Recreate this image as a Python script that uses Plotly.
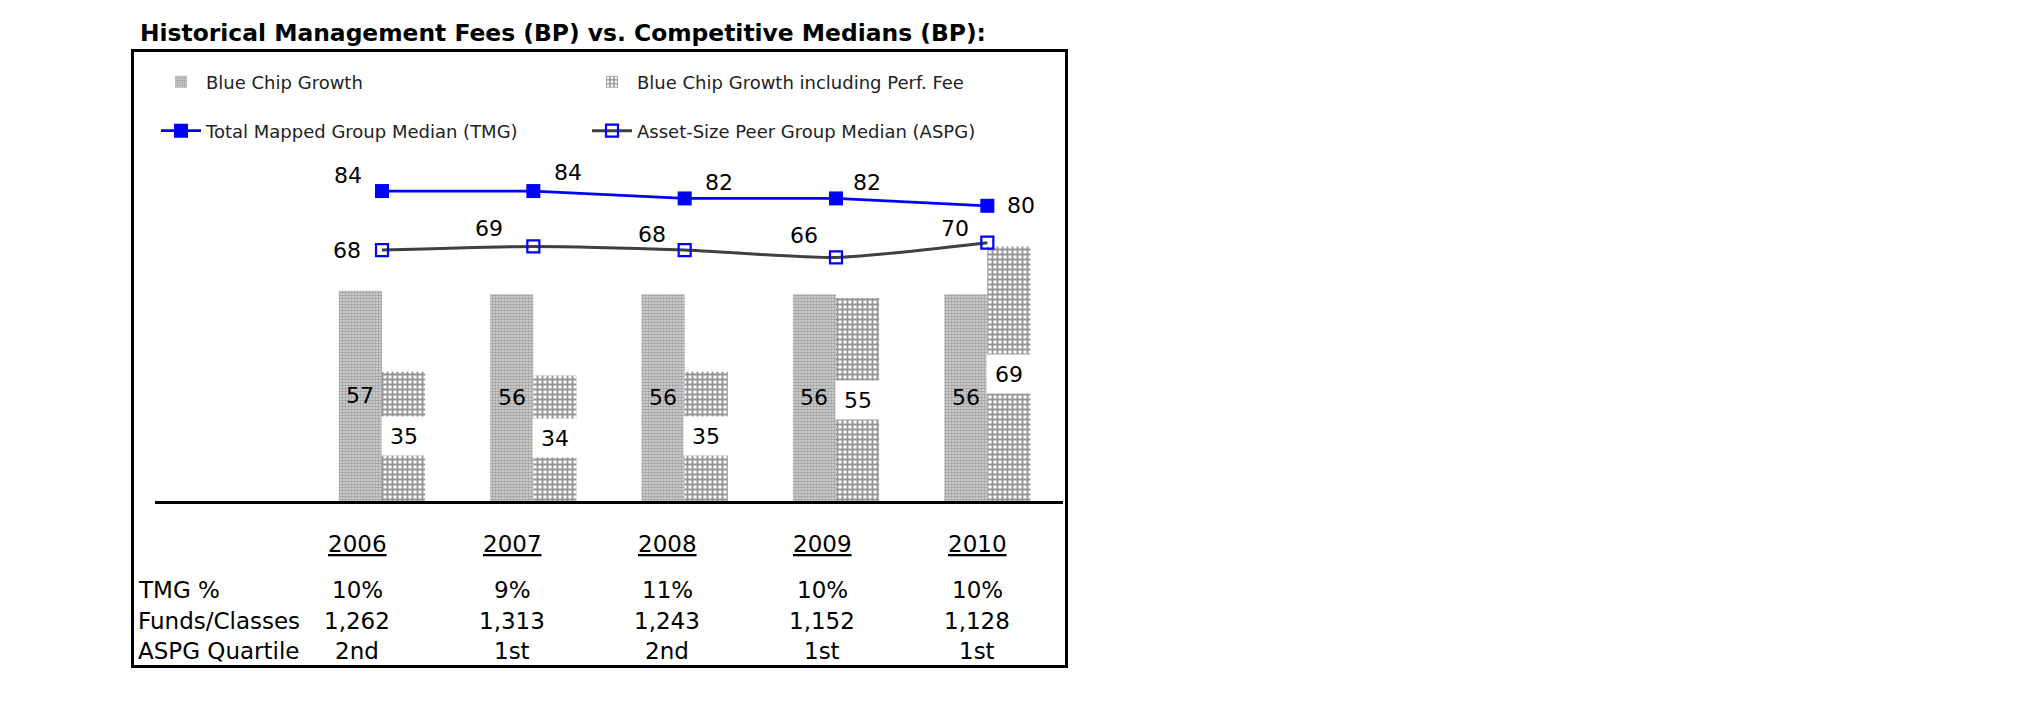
import plotly.graph_objects as go

years = ["2006", "2007", "2008", "2009", "2010"]
bcg = [57, 56, 56, 56, 56]
bcg_perf = [35, 34, 35, 55, 69]
tmg = [84, 84, 82, 82, 80]
aspg = [68, 69, 68, 66, 70]

row_labels = ["TMG %", "Funds/Classes", "ASPG Quartile"]
tmg_pct = ["10%", "9%", "11%", "10%", "10%"]
funds = ["1,262", "1,313", "1,243", "1,152", "1,128"]
quartile = ["2nd", "1st", "2nd", "1st", "1st"]

title = "Historical Management Fees (BP) vs. Competitive Medians (BP):"

# label offsets (pixels, screen) for line value labels
tmg_off = [(-34, -16), (35, -19), (34, -16), (31, -16), (34, 0)]
aspg_off = [(-35, 0), (-44, -18), (-33, -16), (-32, -22), (-32, -14)]

FONT = "DejaVu Sans"
W, H = 2025, 717
OFF = 8  # default page margin of the html body
ML = 155 - OFF
MT = 132 - OFF
MB = H - (501 - OFF)
MR = W - (1063 - OFF)
PW = W - ML - MR
PH = H - MT - MB

xpos = list(range(len(years)))  # category index positions on the x axis


def px(xpix):
    return (xpix - OFF - ML) / PW


def py(ypix):
    return (H - MB - (ypix - OFF)) / PH


fig = go.Figure()

fig.add_trace(go.Bar(
    x=xpos, y=bcg, name="Blue Chip Growth", legend="legend",
    marker=dict(color="#c8c8c8", line=dict(width=0),
                pattern=dict(shape=".", size=3, solidity=0.6,
                             fgcolor="#666666", bgcolor="#dadada", fillmode="overlay")),
))
fig.add_trace(go.Bar(
    x=xpos, y=bcg_perf, name="Blue Chip Growth including Perf. Fee", legend="legend",
    marker=dict(color="white", line=dict(width=0),
                pattern=dict(shape="+", size=5, solidity=0.6,
                             fgcolor="#2a2a2a", bgcolor="#ffffff", fillmode="overlay")),
))
fig.add_trace(go.Scatter(
    x=xpos, y=tmg, name="Total Mapped Group Median (TMG)", legend="legend2",
    mode="lines+markers",
    line=dict(color="#0000ff", width=2.8),
    marker=dict(symbol="square", size=14, color="#0000ff"),
))
fig.add_trace(go.Scatter(
    x=xpos, y=aspg, name="Asset-Size Peer Group Median (ASPG)", legend="legend2",
    mode="lines+markers",
    line=dict(color="#404040", width=3, shape="spline", smoothing=0.6),
    marker=dict(symbol="square-open", size=12, color="#0000ff", line=dict(width=2.2)),
))

ann = []
bw = 43.2
for i in xpos:
    ann.append(dict(x=i, y=bcg[i] / 2, xref="x", yref="y", text=str(bcg[i]),
                    showarrow=False, xshift=-bw / 2,
                    font=dict(family=FONT, size=22, color="black")))
    ann.append(dict(x=i, y=bcg_perf[i] / 2, xref="x", yref="y", text=str(bcg_perf[i]),
                    showarrow=False, xshift=bw / 2, bgcolor="white",
                    width=40, height=34, borderpad=2,
                    font=dict(family=FONT, size=22, color="black")))
    dx, dy = tmg_off[i]
    ann.append(dict(x=i, y=tmg[i], xref="x", yref="y", text=str(tmg[i]),
                    showarrow=False, xshift=dx, yshift=-dy,
                    font=dict(family=FONT, size=22, color="black")))
    dx, dy = aspg_off[i]
    ann.append(dict(x=i, y=aspg[i], xref="x", yref="y", text=str(aspg[i]),
                    showarrow=False, xshift=dx, yshift=-dy,
                    font=dict(family=FONT, size=22, color="black")))

# title
ann.append(dict(x=px(138), y=py(33.5), xref="paper", yref="paper", text="<b>" + title + "</b>",
                showarrow=False, xanchor="left", yanchor="middle",
                font=dict(family=FONT, size=23.4, color="black")))

# table
col_x = [357 + 155 * i for i in range(5)]
row_y = [590, 621, 651]
for i, yr in enumerate(years):
    ann.append(dict(x=px(col_x[i]), y=py(543.5), xref="paper", yref="paper",
                    text="<u>" + yr + "</u>", showarrow=False, xanchor="center", yanchor="middle",
                    font=dict(family=FONT, size=23, color="black")))
    for r, vals in enumerate([tmg_pct, funds, quartile]):
        ann.append(dict(x=px(col_x[i]), y=py(row_y[r]), xref="paper", yref="paper",
                        text=vals[i], showarrow=False, xanchor="center", yanchor="middle",
                        font=dict(family=FONT, size=23, color="black")))
for r, lab in enumerate(row_labels):
    ann.append(dict(x=px(136), y=py(row_y[r]), xref="paper", yref="paper",
                    text=lab, showarrow=False, xanchor="left", yanchor="middle",
                    font=dict(family=FONT, size=23, color="black")))

shapes = [dict(type="rect", xref="paper", yref="paper",
               x0=px(132.5), x1=px(1066.5), y0=py(666.5), y1=py(50.5),
               line=dict(color="black", width=3), fillcolor="rgba(0,0,0,0)", layer="above")]

fig.update_layout(
    width=W, height=H, autosize=False,
    margin=dict(l=ML, r=MR, t=MT, b=MB, pad=0, autoexpand=False),
    paper_bgcolor="white", plot_bgcolor="white",
    barmode="group", bargap=0.43, bargroupgap=0,
    font=dict(family=FONT, size=18, color="black"),
    xaxis=dict(type="linear", range=[-1.5, 4.5], showticklabels=False, ticks="", showgrid=False,
               zeroline=False, showline=True, linecolor="black", linewidth=3, fixedrange=True),
    yaxis=dict(range=[0, 100], visible=False, fixedrange=True),
    legend=dict(orientation="h", x=px(156), y=py(82), xanchor="left", yanchor="middle",
                entrywidth=376, entrywidthmode="pixels", itemwidth=40,
                font=dict(family=FONT, size=18, color="#222"), bgcolor="rgba(0,0,0,0)",
                traceorder="normal"),
    legend2=dict(orientation="h", x=px(156), y=py(131), xanchor="left", yanchor="middle",
                 entrywidth=376, entrywidthmode="pixels", itemwidth=40,
                 font=dict(family=FONT, size=18, color="#222"), bgcolor="rgba(0,0,0,0)",
                 traceorder="normal"),
    annotations=ann, shapes=shapes,
    showlegend=True,
)

fig.write_html("out.html")
